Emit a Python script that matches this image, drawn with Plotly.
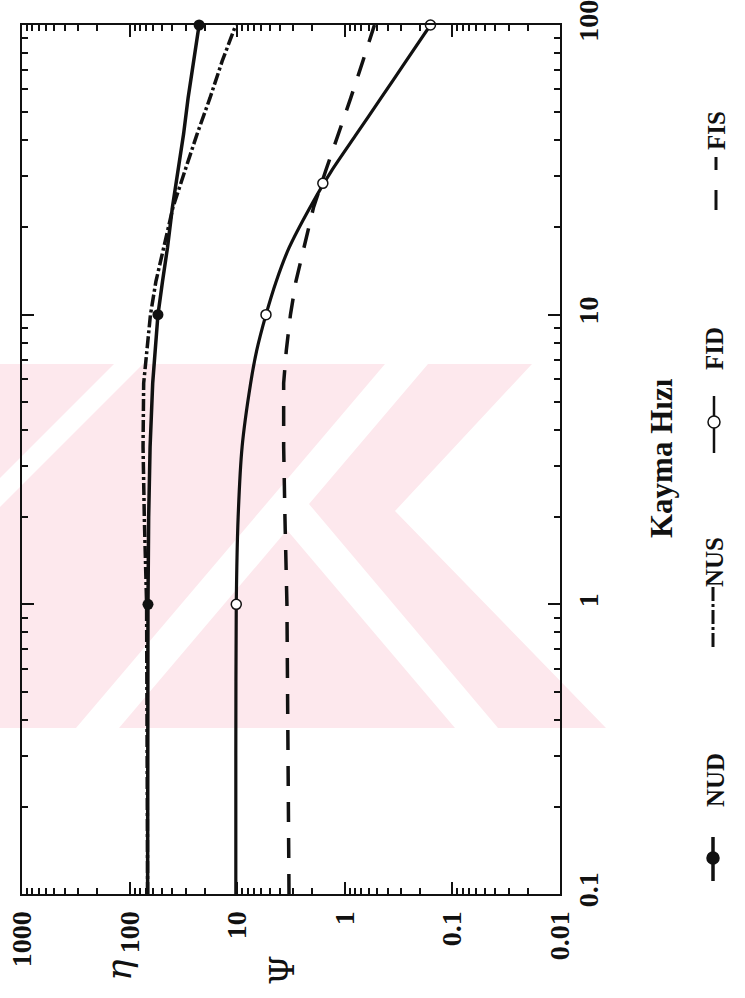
import plotly.graph_objects as go

# ---------------- data ----------------
shear_rate = [0.1, 0.3, 1, 2, 3.5, 5.8, 7.5, 10, 13, 17, 23.5, 31.5, 42, 56, 75, 100]
nud = [68, 68, 67.5, 66.5, 64.5, 61, 58, 54.5, 49.5, 44.5, 40, 35.5, 31.5, 28.6, 25.3, 22.6]
nus = [68, 68.5, 69.5, 73, 75, 74, 69.5, 64, 57, 48, 39.5, 30.5, 23.6, 17.9, 13.8, 10.3]
fid = [10.3, 10.3, 10.2, 9.8, 9.0, 7.5, 6.6, 5.4, 4.35, 3.3, 2.1, 1.32, 0.78, 0.46, 0.27, 0.16]
fis = [3.3, 3.35, 3.45, 3.6, 3.7, 3.7, 3.5, 3.2, 2.85, 2.4, 1.95, 1.5, 1.14, 0.88, 0.68, 0.53]

nud_mark_shear = [1, 10, 100]
nud_mark = [67.5, 54.5, 22.6]
fid_mark_shear = [1, 10, 28.4, 100]
fid_mark = [10.2, 5.4, 1.6, 0.16]

eta_ticks = [1000, 100, 10, 1, 0.1, 0.01]
eta_labels = ["1000", "100", "10", "1", "0.1", "0.01"]
shear_ticks = [0.1, 1, 10, 100]
shear_labels = ["0.1", "1", "10", "100"]

eta_minor = [m * 10 ** e for e in range(-2, 3) for m in range(2, 10)]
shear_minor = [m * 10 ** e for e in range(-1, 2) for m in range(2, 10)]

INK = "#111111"
PINK = "#fde8ed"
FONT = "Liberation Serif"

# ---------------- figure geometry (pixels) ----------------
W, H = 745, 998
L, R, T, B = 22, 560, 25, 894


def px(x):
    return (x - L) / (R - L)


def py(y):
    return (B - y) / (B - T)


fig = go.Figure()
fig.add_trace(go.Scatter(x=nus, y=shear_rate, mode="lines",
                         line=dict(color=INK, width=3.5, dash="12px,3px,3px,3px"),
                         showlegend=False))
fig.add_trace(go.Scatter(x=nud, y=shear_rate, mode="lines",
                         line=dict(color=INK, width=3.5), showlegend=False))
fig.add_trace(go.Scatter(x=fis, y=shear_rate, mode="lines",
                         line=dict(color=INK, width=3.5, dash="20px,16px"),
                         showlegend=False))
fig.add_trace(go.Scatter(x=fid, y=shear_rate, mode="lines", line_shape="spline",
                         line=dict(color=INK, width=3.2, smoothing=0.6), showlegend=False))
fig.add_trace(go.Scatter(x=nud_mark, y=nud_mark_shear, mode="markers",
                         marker=dict(symbol="circle", size=11, color=INK),
                         cliponaxis=False, showlegend=False))
fig.add_trace(go.Scatter(x=fid_mark, y=fid_mark_shear, mode="markers",
                         marker=dict(symbol="circle", size=10, color="white",
                                     line=dict(color=INK, width=1.5)),
                         cliponaxis=False, showlegend=False))

tickfont = dict(family=FONT, size=28, color=INK, weight="bold")
common = dict(type="log", tickmode="array", tickangle=-90,
              ticks="inside", ticklen=12, tickwidth=1.5, tickcolor=INK,
              showline=True, linewidth=2, linecolor=INK, mirror="allticks",
              showgrid=False, zeroline=False, tickfont=tickfont, automargin=False,
              ticklabeloverflow="allow")

fig.update_xaxes(range=[3, -2], tickvals=eta_ticks, ticktext=eta_labels,
                 ticklabelstandoff=4,
                 minor=dict(tickmode="array", tickvals=eta_minor, ticks="inside",
                            ticklen=6, tickwidth=1.5, tickcolor=INK, showgrid=False),
                 **common)
fig.update_yaxes(range=[-1, 2], side="right", tickvals=shear_ticks,
                 ticktext=shear_labels, ticklabelstandoff=2,
                 minor=dict(tickmode="array", tickvals=shear_minor, ticks="inside",
                            ticklen=6, tickwidth=1.5, tickcolor=INK, showgrid=False),
                 **common)

annotations = []


def text(x, y, s, size, family=FONT, italic=False, weight="bold"):
    annotations.append(dict(
        x=px(x), y=py(y), xref="paper", yref="paper", text=s, showarrow=False,
        textangle=-90, xanchor="center", yanchor="middle",
        font=dict(family=family, size=size, color=INK, weight=weight,
                  style="italic" if italic else "normal")))


text(661, 458, "Kayma Hızı", 31)
text(118, 970, "η", 36, family="DejaVu Serif", italic=True, weight="normal")
text(282, 970, "Ψ", 34, family="DejaVu Serif", weight="normal")
text(715, 780, "NUD", 25)
text(714, 562, "NUS", 25)
text(714, 349, "FID", 25)
text(716, 131, "FIS", 25)

shapes = []


def poly(points):
    d = "M " + " L ".join(f"{px(x):.5f},{py(y):.5f}" for x, y in points) + " Z"
    shapes.append(dict(type="path", xref="paper", yref="paper", path=d,
                       fillcolor=PINK, line=dict(width=0), layer="below"))


# faint pink watermark in the background
poly([(0, 364), (114, 364), (0, 478)])
poly([(143, 364), (385, 364), (76, 728), (0, 728), (0, 507)])
poly([(428, 364), (532, 364), (395, 511), (606, 728), (498, 728), (309, 504)])
poly([(287, 530), (455, 728), (119, 728)])


def vline(x, y0, y1, width=3, dash="solid"):
    shapes.append(dict(type="line", xref="paper", yref="paper",
                       x0=px(x), x1=px(x), y0=py(y0), y1=py(y1),
                       line=dict(color=INK, width=width, dash=dash)))


def circle(x, y, r, fill):
    shapes.append(dict(type="circle", xref="paper", yref="paper",
                       x0=px(x - r), x1=px(x + r), y0=py(y + r), y1=py(y - r),
                       fillcolor=fill, line=dict(color=INK, width=1.5)))


vline(713, 837, 881, 3.5)
circle(713, 858, 6, INK)
vline(713, 587, 648, 3, "14px,3px,3px,3px")
vline(714, 396, 453, 2.5)
circle(714, 422, 6, "white")
vline(716, 157, 170, 3)
vline(716, 190, 210, 3)

fig.update_layout(width=W, height=H, margin=dict(l=L, r=W - R, t=T, b=H - B),
                  paper_bgcolor="white", plot_bgcolor="rgba(0,0,0,0)",
                  annotations=annotations, shapes=shapes, showlegend=False)

fig.write_html("out.html", config={"displayModeBar": False},
               post_script="document.body.style.margin='0px';")
